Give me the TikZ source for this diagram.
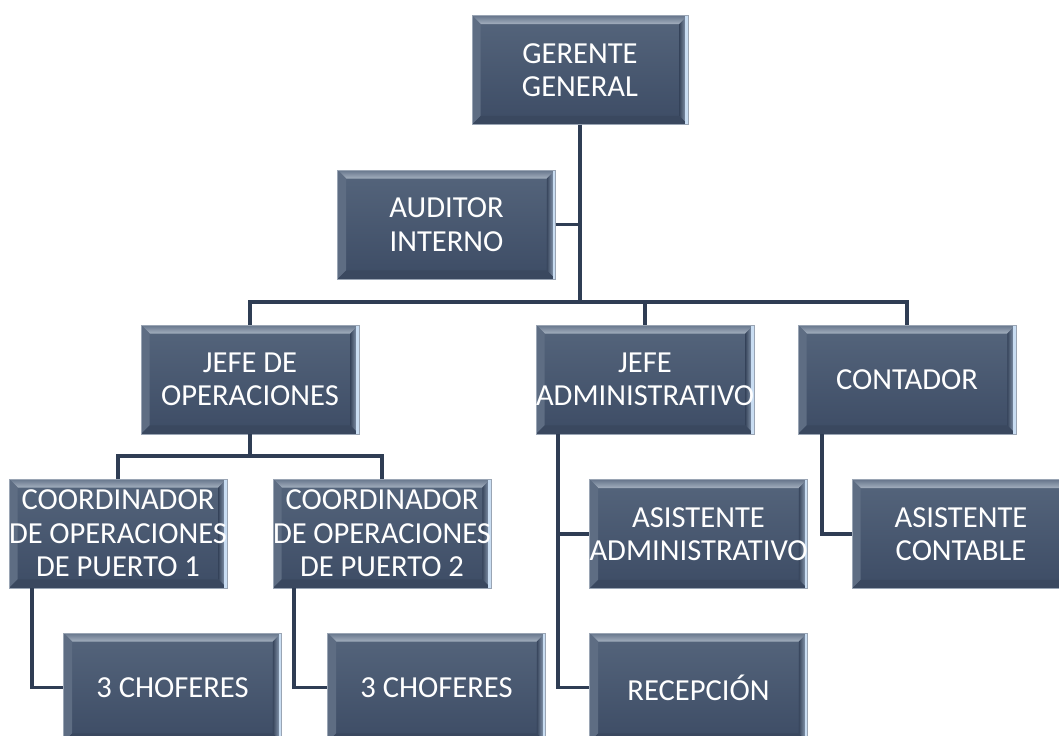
\documentclass[tikz,border=0pt]{standalone}
\usepackage{fontspec}
\setmainfont{Carlito}
\usetikzlibrary{positioning,calc}

\definecolor{slatetop}{HTML}{55657C}
\definecolor{slatebot}{HTML}{3D4C65}
\definecolor{bevtop}{HTML}{66758B}
\definecolor{bevglow}{HTML}{A3AFBE}
\definecolor{bevleft}{HTML}{5E6D83}
\definecolor{bevdark}{HTML}{3A485F}
\definecolor{bevedge}{HTML}{C9DDF2}
\definecolor{boxline}{HTML}{9AA5B4}
\definecolor{linkcol}{HTML}{2F3D54}

\newcommand*{\orgfont}{\fontsize{17.4}{19}\selectfont\hyphenpenalty=10000 }

\tikzset{
  orgbox/.style={rectangle, minimum width=4.36cm, text width=4.36cm, minimum height=2.18cm,
    inner xsep=0pt, inner ysep=1pt, align=flush center, text=white, font=\orgfont,
    top color=slatetop, bottom color=slatebot, draw=boxline, line width=0.3pt,
    path picture={
      \coordinate (pnw) at (path picture bounding box.north west);
      \coordinate (pne) at (path picture bounding box.north east);
      \coordinate (psw) at (path picture bounding box.south west);
      \coordinate (pse) at (path picture bounding box.south east);
      % bevel bands
      \shade[top color=bevtop, bottom color=bevglow] (pnw) -- (pne)
        -- ([shift={(-0.17cm,-0.17cm)}]pne) -- ([shift={(0.17cm,-0.17cm)}]pnw) -- cycle;
      \fill[bevleft] (pnw) -- ([shift={(0.17cm,-0.17cm)}]pnw)
        -- ([shift={(0.17cm,0.17cm)}]psw) -- (psw) -- cycle;
      \shade[left color=bevdark, right color=bevedge!70!bevdark] (pne) -- ([shift={(-0.17cm,-0.17cm)}]pne)
        -- ([shift={(-0.17cm,0.17cm)}]pse) -- (pse) -- cycle;
      \fill[bevdark] (psw) -- ([shift={(0.17cm,0.17cm)}]psw)
        -- ([shift={(-0.17cm,0.17cm)}]pse) -- (pse) -- cycle;
      \draw[bevedge, line width=1.2pt] ([xshift=-0.03cm]pne) -- ([xshift=-0.03cm]pse);
    }},
  link/.style={draw=linkcol, line width=2pt}
}

\begin{document}
\begin{tikzpicture}[x=0.02cm, y=-0.02cm]
  \useasboundingbox (0,0) rectangle (1059,736);
  \clip (0,0) rectangle (1059,736);

  % boxes
  \node[orgbox, minimum width=4.32cm, text width=4.32cm] (gerente) at (580,70) {GERENTE\\GENERAL};
  \node[orgbox] (auditor) at (446.5,224.5) {AUDITOR\\INTERNO};

  \node[orgbox] (jops) at (250,379.5) {JEFE~DE\\OPERACIONES};
  \node[orgbox] (jadmin) at (645,379.5) {JEFE\\ADMINISTRATIVO};
  \node[orgbox] (contador) at (907,379.5) {CONTADOR};

  \node[orgbox] (coord1) at (118,533.5) {COORDINADOR\\DE~OPERACIONES\\DE~PUERTO~1};
  \node[orgbox] (coord2) at (382,533.5) {COORDINADOR\\DE~OPERACIONES\\DE~PUERTO~2};
  \node[orgbox] (asisadm) at (698.5,534) {ASISTENTE\\ADMINISTRATIVO};
  \node[orgbox] (asiscont) at (961,534) {ASISTENTE\\CONTABLE};

  \node[orgbox] (chof1) at (172.5,687.5) {3~CHOFERES};
  \node[orgbox] (chof2) at (436.5,687.5) {3~CHOFERES};
  \node[orgbox] (recep) at (698.5,687.5) {RECEPCIÓN};

  % connectors
  \coordinate (bar) at (580,302);
  \coordinate (opsbar) at (250,456);

  \draw[link] (gerente.south) -- (gerente |- bar);
  \draw[link] (auditor.east) -- (auditor.east -| gerente.south);
  \draw[link] (jops.north) |- (bar) -| (contador.north);
  \draw[link] (jadmin.north) -- (jadmin.north |- bar);

  \draw[link] (jops.south) -- (opsbar);
  \draw[link] (coord1.north) |- (opsbar) -| (coord2.north);
  \draw[link] ([xshift=0.46cm]coord1.south west) |- (chof1.west);
  \draw[link] ([xshift=0.42cm]coord2.south west) |- (chof2.west);

  \draw[link] ([xshift=0.44cm]jadmin.south west) |- (recep.west);
  \draw[link] ([xshift=0.44cm]jadmin.south west) |- (asisadm.west);
  \draw[link] ([xshift=0.48cm]contador.south west) |- (asiscont.west);
\end{tikzpicture}
\end{document}
